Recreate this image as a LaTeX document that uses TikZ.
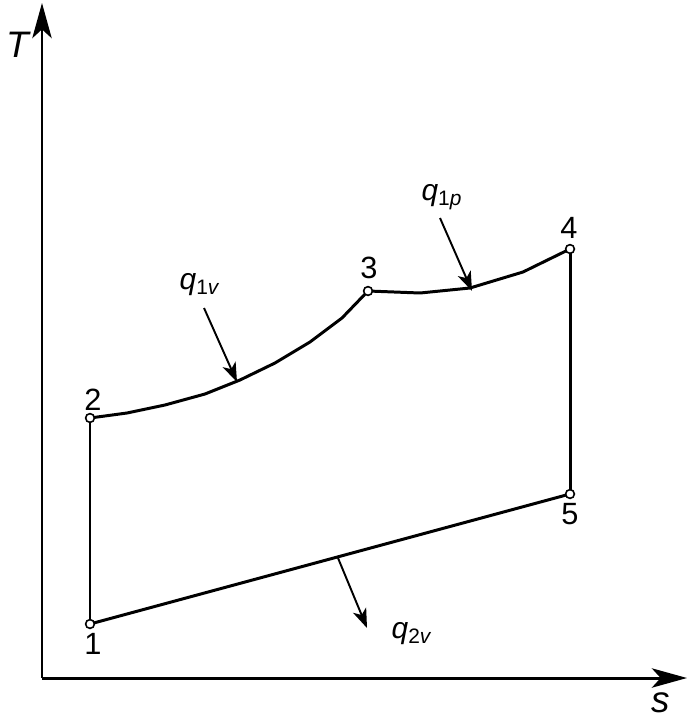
\documentclass[tikz,border=0pt]{standalone}
\usepackage{fontspec}
\setmainfont{Liberation Sans}
\usetikzlibrary{arrows.meta}
\tikzset{
  axis/.style={line width=1.7pt, -{Stealth[length=20pt, width=11pt, inset=5pt]}},
  cycle/.style={line width=1.7pt},
  heat/.style={line width=1.1pt, -{Stealth[length=11pt, width=8pt, inset=3pt]}},
  state/.style={circle, draw, fill=white, line width=0.9pt, inner sep=0pt, minimum size=5pt},
  num/.style={font=\fontsize{17.5}{17.5}\selectfont},
  ql/.style={font=\fontsize{17}{17}\selectfont}
}
\begin{document}
\begin{tikzpicture}[x=0.02cm, y=-0.02cm]
      \useasboundingbox (0,0) rectangle (689,726);
      % axes
      \coordinate (O) at (42,678);
      \coordinate (Ttip) at (42,3);
      \coordinate (stip) at (687,678);
      \draw[axis] (O) -- (Ttip);
      \draw[axis] (O) -- (stip);
      \node[font=\fontsize{21}{21}\selectfont\itshape] (T) at (18,45) {T};
      \node[font=\fontsize{21}{21}\selectfont\itshape] (s) at (661,703) {s};
      % cycle
      \coordinate (1) at (90,624);
      \coordinate (2) at (90,418);
      \coordinate (3) at (368,291);
      \coordinate (4) at (570,249);
      \coordinate (5) at (570,494);
      \begin{scope}[cycle]
        \draw (1) -- (2);
        \draw (2) -- (127,413) -- (165,405) -- (205,394) -- (240,380)
          -- (275,363) -- (310,342) -- (342,318) -- (3);
        \draw (3) -- (420,293) -- (470,288) -- (523,272) -- (4);
        \draw (4) -- (5);
        \draw (5) -- (1);
      \end{scope}
      \foreach \p in {1,...,5}
        \node[state] (p\p) at (\p) {};
      \node[num] (n1) at (93,644) {1};
      \node[num] (n2) at (93,400) {2};
      \node[num] (n3) at (369,268) {3};
      \node[num] (n4) at (569,228) {4};
      \node[num] (n5) at (570,514) {5};
      % heat
      \coordinate (a1) at (204,308);
      \coordinate (b1) at (237,382);
      \coordinate (a2) at (440,218);
      \coordinate (b2) at (472,291);
      \coordinate (a3) at (338,558);
      \coordinate (b3) at (367,628);
      \draw[heat] (a1) -- (b1);
      \draw[heat] (a2) -- (b2);
      \draw[heat] (a3) -- (b3);
      \node[ql] (q1v) at (200,285) {\textit{q}\textsubscript{1\textit{v}}};
      \node[ql] (q1p) at (442,197) {\textit{q}\textsubscript{1\textit{p}}};
      \node[ql] (q2v) at (412,634) {\textit{q}\textsubscript{2\textit{v}}};
    \end{tikzpicture}
\end{document}
